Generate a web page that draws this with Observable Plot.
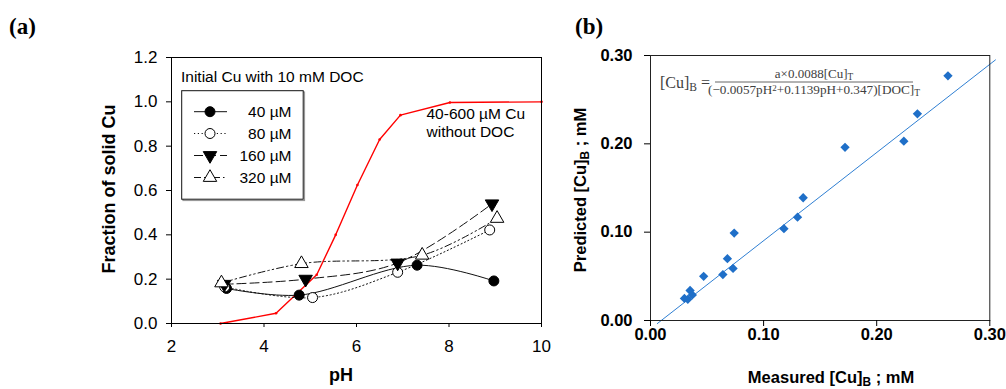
<!DOCTYPE html>
<html><head><meta charset="utf-8">
<script src="https://cdn.jsdelivr.net/npm/d3@7"></script>
<script src="https://cdn.jsdelivr.net/npm/@observablehq/plot@0.6"></script>
<style>
html,body{margin:0;padding:0;background:#fff;}
#wrap{position:relative;width:1006px;height:389px;overflow:hidden;background:#fff;}
#a,#b{position:absolute;top:0;}
#a{left:0;} #b{left:560px;}
svg{overflow:visible;}
</style></head><body>
<div id="wrap"><div id="a"></div><div id="b"></div></div>
<script>
// ---------- Panel (a) data ----------
const seriesNames = ["40 µM", "80 µM", "160 µM", "320 µM"];
const pH40 = [3.19, 4.76, 7.31, 8.97];
const f40  = [0.158, 0.128, 0.263, 0.192];
const pH80 = [3.15, 5.05, 6.89, 8.88];
const f80  = [0.165, 0.117, 0.231, 0.422];
const pH160 = [3.14, 4.90, 6.89, 8.93];
const f160  = [0.177, 0.200, 0.273, 0.540];
const pH320 = [3.08, 4.81, 7.42, 9.04];
const f320  = [0.183, 0.270, 0.308, 0.474];
const pHnoDOC = [3.06, 4.26, 5.14, 5.55, 6.02, 6.50, 6.95, 8.02, 10.0];
const fnoDOC  = [0.000, 0.046, 0.220, 0.400, 0.625, 0.830, 0.940, 0.997, 1.000];
const xTicksA = [2, 4, 6, 8, 10];
const yTicksA = [0, 0.2, 0.4, 0.6, 0.8, 1.0, 1.2];

// ---------- Panel (b) data ----------
const measured  = [0.030, 0.033, 0.035, 0.037, 0.047, 0.064, 0.068, 0.073, 0.074, 0.118, 0.130, 0.135, 0.172, 0.224, 0.236, 0.263];
const predicted = [0.025, 0.024, 0.034, 0.029, 0.050, 0.052, 0.070, 0.059, 0.099, 0.104, 0.117, 0.139, 0.196, 0.203, 0.234, 0.277];
const fitX = [0.006, 0.305];
const fitY = [-0.0035, 0.295];
const ticksB = [0, 0.1, 0.2, 0.3];

// ---------- build tables ----------
const seriesX = [pH40, pH80, pH160, pH320];
const seriesY = [f40, f80, f160, f320];
const docRows = seriesNames.map((name, i) => seriesX[i].map((x, j) => ({series: name, pH: x, f: seriesY[i][j]})));
const noDocRows = pHnoDOC.map((x, i) => ({pH: x, f: fnoDOC[i]}));
const bRows = measured.map((m, i) => ({m, p: predicted[i]}));
const fitRows = fitX.map((x, i) => ({m: x, p: fitY[i]}));

const styleOf = {
  "40 µM":  {dash: null,               fill: "black", symbol: "circle",   rotate: 0},
  "80 µM":  {dash: "1.2,2.6",          fill: "white", symbol: "circle",   rotate: 0},
  "160 µM": {dash: "9,4",              fill: "black", symbol: "triangle", rotate: 180},
  "320 µM": {dash: "7,3,1.5,3,1.5,3",  fill: "white", symbol: "triangle", rotate: 0}
};

const sans = "'Liberation Sans', Arial, Helvetica, sans-serif";
const serif = "'Liberation Serif', 'Times New Roman', serif";

// ---------- Panel (a) ----------
const lineMarks = docRows.map((rows, i) => {
  const s = styleOf[seriesNames[i]];
  return Plot.line(rows, {x: "pH", y: "f", curve: "catmull-rom", stroke: "#111", strokeWidth: 1, strokeDasharray: s.dash});
});
const dotMarks = docRows.map((rows, i) => {
  const s = styleOf[seriesNames[i]];
  return Plot.dot(rows, {x: "pH", y: "f", r: 5, symbol: s.symbol, rotate: s.rotate, fill: s.fill, stroke: "black", strokeWidth: 1});
});

const plotA = Plot.plot({
  width: 560, height: 389,
  marginLeft: 171, marginRight: 19, marginTop: 57, marginBottom: 66,
  style: {fontFamily: sans, fontSize: "17px", color: "black", background: "transparent", overflow: "visible"},
  x: {domain: [2, 10]},
  y: {domain: [0, 1.2]},
  marks: [
    Plot.line(noDocRows, {x: "pH", y: "f", stroke: "#ff0000", strokeWidth: 1.4}),
    Plot.dot(noDocRows, {x: "pH", y: "f", r: 1.3, fill: "#ff0000"}),
    ...lineMarks,
    ...dotMarks,
    Plot.frame({stroke: "black", strokeWidth: 1}),
    Plot.axisX({ticks: xTicksA, tickSize: 4, tickPadding: 12, label: null, fontSize: 17}),
    Plot.axisY({ticks: yTicksA, tickFormat: d3.format(".1f"), tickSize: 5, tickPadding: 9, label: null, fontSize: 17})
  ]
});
document.getElementById("a").appendChild(plotA);

const ga = d3.select(plotA).append("g");
// panel label
ga.append("text").attr("x", 9).attr("y", 34).attr("font-family", serif).attr("font-weight", "bold")
  .attr("font-size", 23).attr("text-anchor", "start").text("(a)");
// axis titles
ga.append("text").attr("transform", "translate(115,189) rotate(-90)").attr("text-anchor", "middle")
  .attr("font-family", sans).attr("font-weight", "bold").attr("font-size", 18).text("Fraction of solid Cu");
ga.append("text").attr("x", 341).attr("y", 381).attr("text-anchor", "middle")
  .attr("font-family", sans).attr("font-weight", "bold").attr("font-size", 18).text("pH");
// annotations
ga.append("text").attr("x", 181).attr("y", 81.5).attr("text-anchor", "start")
  .attr("font-family", sans).attr("font-size", 15.5).text("Initial Cu with 10 mM DOC");
const ann = ga.append("text").attr("text-anchor", "start").attr("font-family", sans).attr("font-size", 15.5);
ann.append("tspan").attr("x", 426.5).attr("y", 119).text("40-600 µM Cu");
ann.append("tspan").attr("x", 426.5).attr("y", 137).text("without DOC");
// legend
ga.append("rect").attr("x", 183).attr("y", 92).attr("width", 121.5).attr("height", 108.5)
  .attr("fill", "none").attr("stroke", "#999").attr("stroke-width", 1.2);
ga.append("rect").attr("x", 181.7).attr("y", 90.7).attr("width", 121.5).attr("height", 108.5)
  .attr("fill", "white").attr("stroke", "#111").attr("stroke-width", 1);
const legendY = [111.7, 133.5, 155.5, 177.5];
seriesNames.forEach((name, i) => {
  const s = styleOf[name];
  const yy = legendY[i];
  const ln = ga.append("line").attr("x1", 194).attr("x2", 227).attr("y1", yy).attr("y2", yy)
    .attr("stroke", "#111").attr("stroke-width", 1);
  if (s.dash) ln.attr("stroke-dasharray", s.dash);
  const sym = s.symbol === "circle" ? d3.symbolCircle : d3.symbolTriangle;
  ga.append("path").attr("d", d3.symbol(sym, Math.PI * 25)())
    .attr("transform", `translate(210,${yy}) rotate(${s.rotate})`)
    .attr("fill", s.fill).attr("stroke", "black").attr("stroke-width", 1);
  ga.append("text").attr("x", 291.5).attr("y", yy + 5.5).attr("text-anchor", "end")
    .attr("font-family", sans).attr("font-size", 15.5).text(name);
});

// ---------- Panel (b) ----------
const plotB = Plot.plot({
  width: 446, height: 389,
  marginLeft: 90, marginRight: 16.7, marginTop: 55, marginBottom: 69,
  style: {fontFamily: sans, fontSize: "16.5px", fontWeight: "bold", color: "black", background: "transparent", overflow: "visible"},
  x: {domain: [0, 0.3]},
  y: {domain: [0, 0.3]},
  marks: [
    Plot.line(fitRows, {x: "m", y: "p", stroke: "#2f7fd3", strokeWidth: 1}),
    Plot.dot(bRows, {x: "m", y: "p", symbol: "diamond2", r: 4.2, fill: "#1f6fc8", stroke: "none"}),
    Plot.frame({stroke: "#222", strokeWidth: 1}),
    Plot.axisX({ticks: ticksB, tickFormat: d3.format(".2f"), tickSize: 6, tickPadding: 2, label: null, fontSize: 16.5}),
    Plot.axisY({ticks: ticksB, tickFormat: d3.format(".2f"), tickSize: 6, tickPadding: 12, label: null, fontSize: 16.5})
  ]
});
document.getElementById("b").appendChild(plotB);

const gb = d3.select(plotB).append("g");
gb.append("text").attr("x", 15).attr("y", 34).attr("font-family", serif).attr("font-weight", "bold")
  .attr("font-size", 23).attr("text-anchor", "start").text("(b)");

function rich(sel, parts) {
  for (const p of parts) {
    const t = sel.append("tspan").text(p.t);
    if (p.sub) t.attr("baseline-shift", "-22%").attr("font-size", "72%");
    if (p.sup) t.attr("baseline-shift", "38%").attr("font-size", "68%");
  }
  return sel;
}
// x title
rich(gb.append("text").attr("x", 271).attr("y", 383).attr("text-anchor", "middle")
  .attr("font-family", sans).attr("font-weight", "bold").attr("font-size", 16.5),
  [{t: "Measured [Cu]"}, {t: "B", sub: true}, {t: " ; mM"}]);
// y title
rich(gb.append("text").attr("transform", "translate(26,190) rotate(-90)").attr("text-anchor", "middle")
  .attr("font-family", sans).attr("font-weight", "bold").attr("font-size", 16.5),
  [{t: "Predicted [Cu]"}, {t: "B", sub: true}, {t: " ; mM"}]);
// equation
const eqColor = "#404040";
rich(gb.append("text").attr("x", 100).attr("y", 88).attr("text-anchor", "start")
  .attr("font-family", serif).attr("font-size", 16).attr("fill", eqColor).attr("font-weight", "normal"),
  [{t: "[Cu]"}, {t: "B", sub: true}, {t: " ="}]);
rich(gb.append("text").attr("x", 254).attr("y", 77.5).attr("text-anchor", "middle")
  .attr("font-family", serif).attr("font-size", 13).attr("fill", eqColor).attr("font-weight", "normal"),
  [{t: "a×0.0088[Cu]"}, {t: "T", sub: true}]);
gb.append("line").attr("x1", 155).attr("x2", 353).attr("y1", 82).attr("y2", 82)
  .attr("stroke", "#666").attr("stroke-width", 1);
rich(gb.append("text").attr("x", 254).attr("y", 94).attr("text-anchor", "middle")
  .attr("font-family", serif).attr("font-size", 13.2).attr("fill", eqColor).attr("font-weight", "normal"),
  [{t: "(−0.0057pH"}, {t: "2", sup: true}, {t: "+0.1139pH+0.347)[DOC]"}, {t: "T", sub: true}]);
</script>
</body></html>
